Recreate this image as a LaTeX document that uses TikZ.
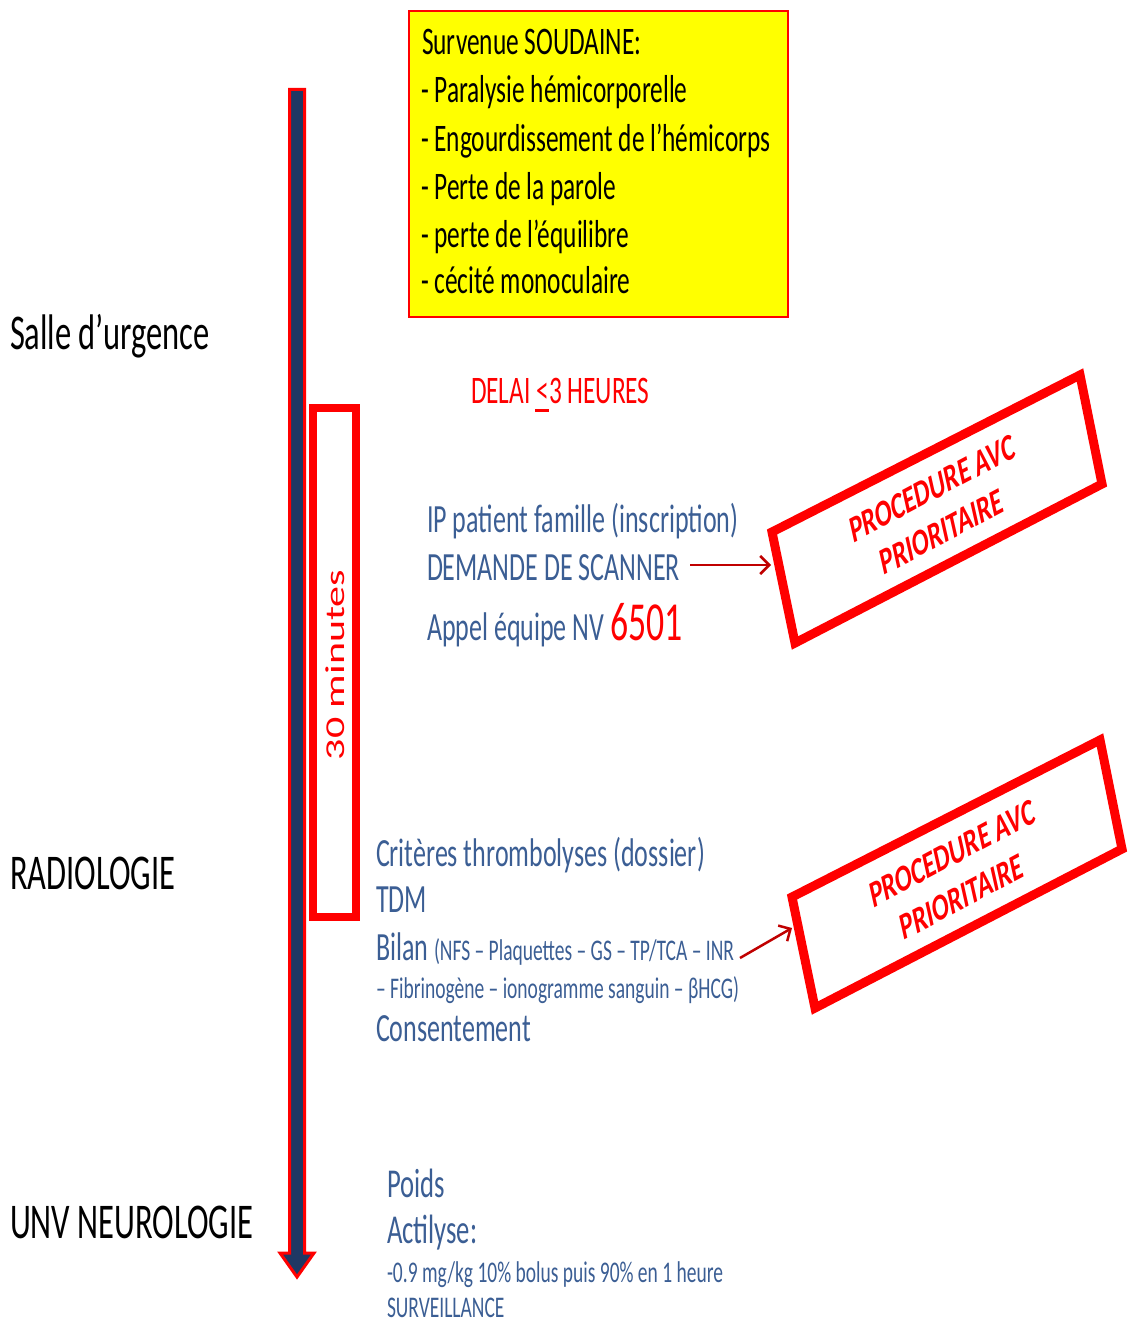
\documentclass[tikz,border=0pt]{standalone}
\usepackage{fontspec}
\setmainfont{Carlito}
\usetikzlibrary{arrows.meta}
\definecolor{tblue}{RGB}{59,94,148}
\definecolor{shaftblue}{RGB}{31,56,100}
\definecolor{dred}{RGB}{192,0,0}
\definecolor{bred}{RGB}{255,0,0}
\definecolor{yel}{RGB}{255,255,0}
\newcommand{\fs}[1]{\fontsize{#1}{#1}\selectfont}
\tikzset{
  txt/.style={anchor=base west, inner sep=0pt, outer sep=0pt, xscale=0.65},
  bluetxt/.style={txt, text=tblue},
  symline/.style={txt, font=\fs{39}},
  redbox/.style={draw=bred, line width=9pt, line join=miter},
  proctxt/.style={inner sep=0pt, xscale=0.65, rotate=19, align=center, text=bred,
    font=\bfseries\fontsize{38}{46}\selectfont},
  linkarrow/.style={draw=dred, line width=2.5pt, -{Straight Barb[length=9pt,width=18pt,line width=2.5pt]}},
}
\begin{document}
\begin{tikzpicture}[x=1pt,y=-1pt]
\useasboundingbox (0,0) rectangle (1127,1327);

% main time arrow
\draw[fill=shaftblue, draw=bred, line width=3pt, line join=miter]
  (289.5,89.5) -- (304.5,89.5) -- (304.5,1253) -- (314,1253) -- (297,1277)
  -- (280,1253) -- (289.5,1253) -- cycle;

% yellow box
\node[draw=bred, fill=yel, line width=2pt, minimum width=379pt, minimum height=306pt,
  inner sep=0pt, anchor=north west] (symbox) at (408,10) {};
\node[symline] (s1) at (422,55) {Survenue SOUDAINE:};
\node[symline] (s2) at (421,103) {- Paralysie hémicorporelle};
\node[symline] (s3) at (421,151) {- Engourdissement de l’hémicorps};
\node[symline] (s4) at (421,199) {- Perte de la parole};
\node[symline] (s5) at (421,247) {- perte de l’équilibre};
\node[symline] (s6) at (421,293) {- cécité monoculaire};

% left labels
\node[txt, font=\fs{50}] (salle) at (10,349) {Salle d’urgence};
\node[txt, font=\fs{50}] (radio) at (10,889) {RADIOLOGIE};
\node[txt, font=\fs{50}] (unv) at (10,1238) {UNV NEUROLOGIE};

% 30 minutes box
\draw[draw=bred, line width=8pt] (313,408) rectangle (356,917);
\node[inner sep=0pt, xscale=0.65, rotate=90, text=bred, font=\fs{42}] (min30) at (335,665) {30 minutes};

% delay
\node[txt, text=bred, font=\fs{39}] (delai) at (471,403)
  {DELAI <\llap{\rule[-9pt]{0.55em}{3pt}}3 HEURES};

% group 1
\node[bluetxt, font=\fs{40}] (ip) at (427,532) {IP patient famille (inscription)};
\node[bluetxt, font=\fs{40}] (dem) at (427,580) {DEMANDE DE SCANNER};
\node[bluetxt, font=\fs{40}] (appel) at (427,640) {Appel équipe NV {\color{bred}\fs{55}6501}};

% procedure box 1
\draw[redbox] (772,532) -- (1080,375) -- (1102,484) -- (795,643) -- cycle;
\node[proctxt] (proc1) at (937,510) {PROCEDURE AVC\\PRIORITAIRE};
\coordinate (a1s) at (690,565);
\coordinate (a1e) at (771,565);
\draw[linkarrow] (a1s) -- (a1e);

% group 2
\node[bluetxt, font=\fs{40}] (crit) at (376,866) {Critères thrombolyses (dossier)};
\node[bluetxt, font=\fs{40}] (tdm) at (376,912) {TDM};
\node[bluetxt, font=\fs{40}] (bilan) at (376,960) {Bilan {\fs{30}(NFS – Plaquettes – GS – TP/TCA – INR}};
\node[bluetxt, font=\fs{30}] (bilan2) at (376,998) {– Fibrinogène – ionogramme sanguin – βHCG)};
\node[bluetxt, font=\fs{40}] (cons) at (376,1041) {Consentement};

% procedure box 2
\draw[redbox] (792,897) -- (1100,740) -- (1122,849) -- (815,1008) -- cycle;
\node[proctxt] (proc2) at (957,875) {PROCEDURE AVC\\PRIORITAIRE};
\coordinate (a2s) at (740,958);
\coordinate (a2e) at (792,928);
\draw[linkarrow] (a2s) -- (a2e);

% group 3
\node[bluetxt, font=\fs{41}] (poids) at (387,1197) {Poids};
\node[bluetxt, font=\fs{41}] (acti) at (387,1243) {Actilyse:};
\node[bluetxt, font=\fs{30}] (dose) at (387,1282) {-0.9 mg/kg 10\% bolus puis 90\% en 1 heure};
\node[bluetxt, font=\fs{30}] (surv) at (387,1317) {SURVEILLANCE};
\end{tikzpicture}
\end{document}
